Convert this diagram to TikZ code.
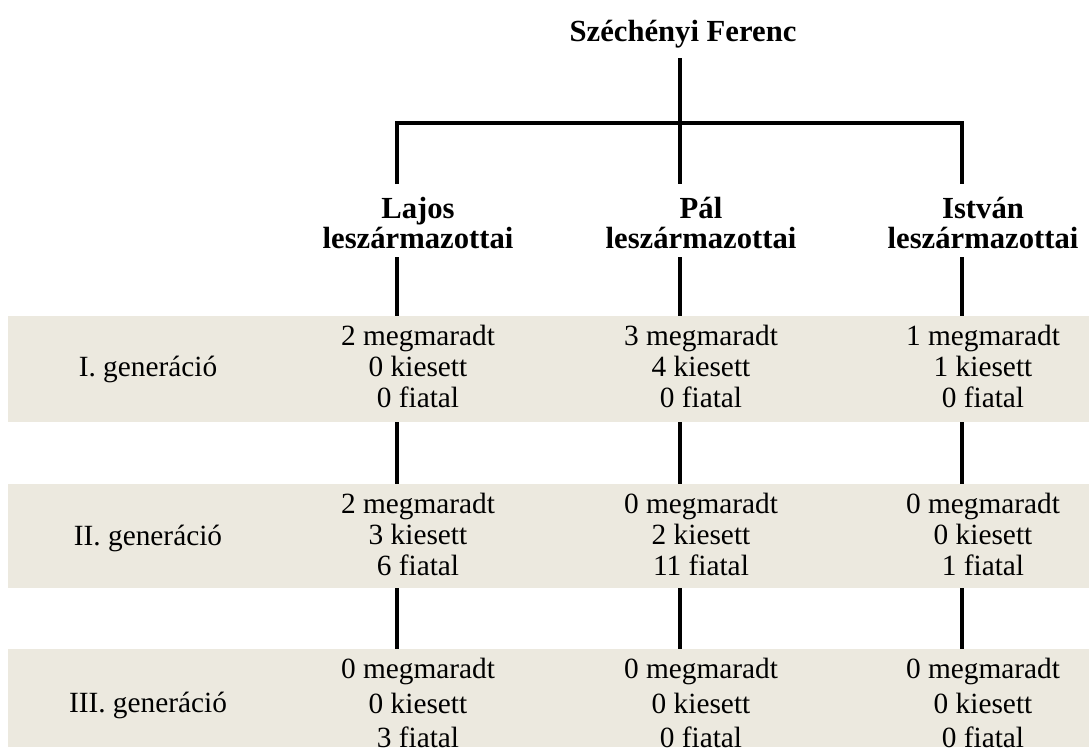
\documentclass[tikz,border=0pt]{standalone}
\usepackage{fontspec}
\setmainfont{Liberation Serif}
\definecolor{bandc}{RGB}{236,233,223}
\tikzset{
  band/.style={fill=bandc, draw=none},
  conn/.style={line width=3pt, line join=miter, draw=black},
  head/.style={font=\fontsize{23}{26}\selectfont\bfseries, inner sep=0pt, anchor=base},
  gen/.style={font=\fontsize{22}{26}\selectfont, inner sep=0pt, anchor=base},
  cellA/.style={font=\fontsize{22}{23.25}\selectfont, inner sep=0pt, anchor=north, align=center},
  cellB/.style={font=\fontsize{22}{25.9}\selectfont, inner sep=0pt, anchor=north, align=center},
}
\begin{document}
\begin{tikzpicture}[x=0.75pt,y=-0.75pt]
\useasboundingbox (0,0) rectangle (1089,747);
% bands
\fill[band] (8,316) rectangle (1089,422);
\fill[band] (8,484) rectangle (1089,588);
\fill[band] (8,649) rectangle (1089,747);
% heads
\node[head] (title) at (683,41) {Széchényi Ferenc};
\node[head] (lajos1) at (418,218) {Lajos};
\node[head] (lajos2) at (418,248) {leszármazottai};
\node[head] (pal1) at (701,218) {Pál};
\node[head] (pal2) at (701,248) {leszármazottai};
\node[head] (istvan1) at (983,218) {István};
\node[head] (istvan2) at (983,248) {leszármazottai};
% generation labels
\node[gen] (g1) at (148,376) {I. generáció};
\node[gen] (g2) at (148,545) {II. generáció};
\node[gen] (g3) at (148,712) {III. generáció};
% cells
\node[cellA] (c11) at (418,325) {2 megmaradt\\0 kiesett\\0 fiatal};
\node[cellA] (c12) at (701,325) {3 megmaradt\\4 kiesett\\0 fiatal};
\node[cellA] (c13) at (983,325) {1 megmaradt\\1 kiesett\\0 fiatal};
\node[cellA] (c21) at (418,493) {2 megmaradt\\3 kiesett\\6 fiatal};
\node[cellA] (c22) at (701,493) {0 megmaradt\\2 kiesett\\11 fiatal};
\node[cellA] (c23) at (983,493) {0 megmaradt\\0 kiesett\\1 fiatal};
\node[cellB] (c31) at (418,658) {0 megmaradt\\0 kiesett\\3 fiatal};
\node[cellB] (c32) at (701,658) {0 megmaradt\\0 kiesett\\0 fiatal};
\node[cellB] (c33) at (983,658) {0 megmaradt\\0 kiesett\\0 fiatal};
% connector points
\coordinate (ft) at (680,58);
\coordinate (jL) at (397,123);
\coordinate (jM) at (680,123);
\coordinate (jR) at (962,123);
\foreach \n/\x in {L/397,M/680,R/962}{
  \coordinate (h\n) at (\x,184);
  \coordinate (a\n) at (\x,257);
  \coordinate (b\n) at (\x,316);
  \coordinate (c\n) at (\x,422);
  \coordinate (d\n) at (\x,484);
  \coordinate (e\n) at (\x,588);
  \coordinate (f\n) at (\x,649);
}
\draw[conn] (ft) -- (jM);
\draw[conn] (hL) -- (jL) -- (jR) -- (hR);
\draw[conn] (jM) -- (hM);
\foreach \n in {L,M,R}{
  \draw[conn] (a\n) -- (b\n);
  \draw[conn] (c\n) -- (d\n);
  \draw[conn] (e\n) -- (f\n);
}
\end{tikzpicture}
\end{document}
